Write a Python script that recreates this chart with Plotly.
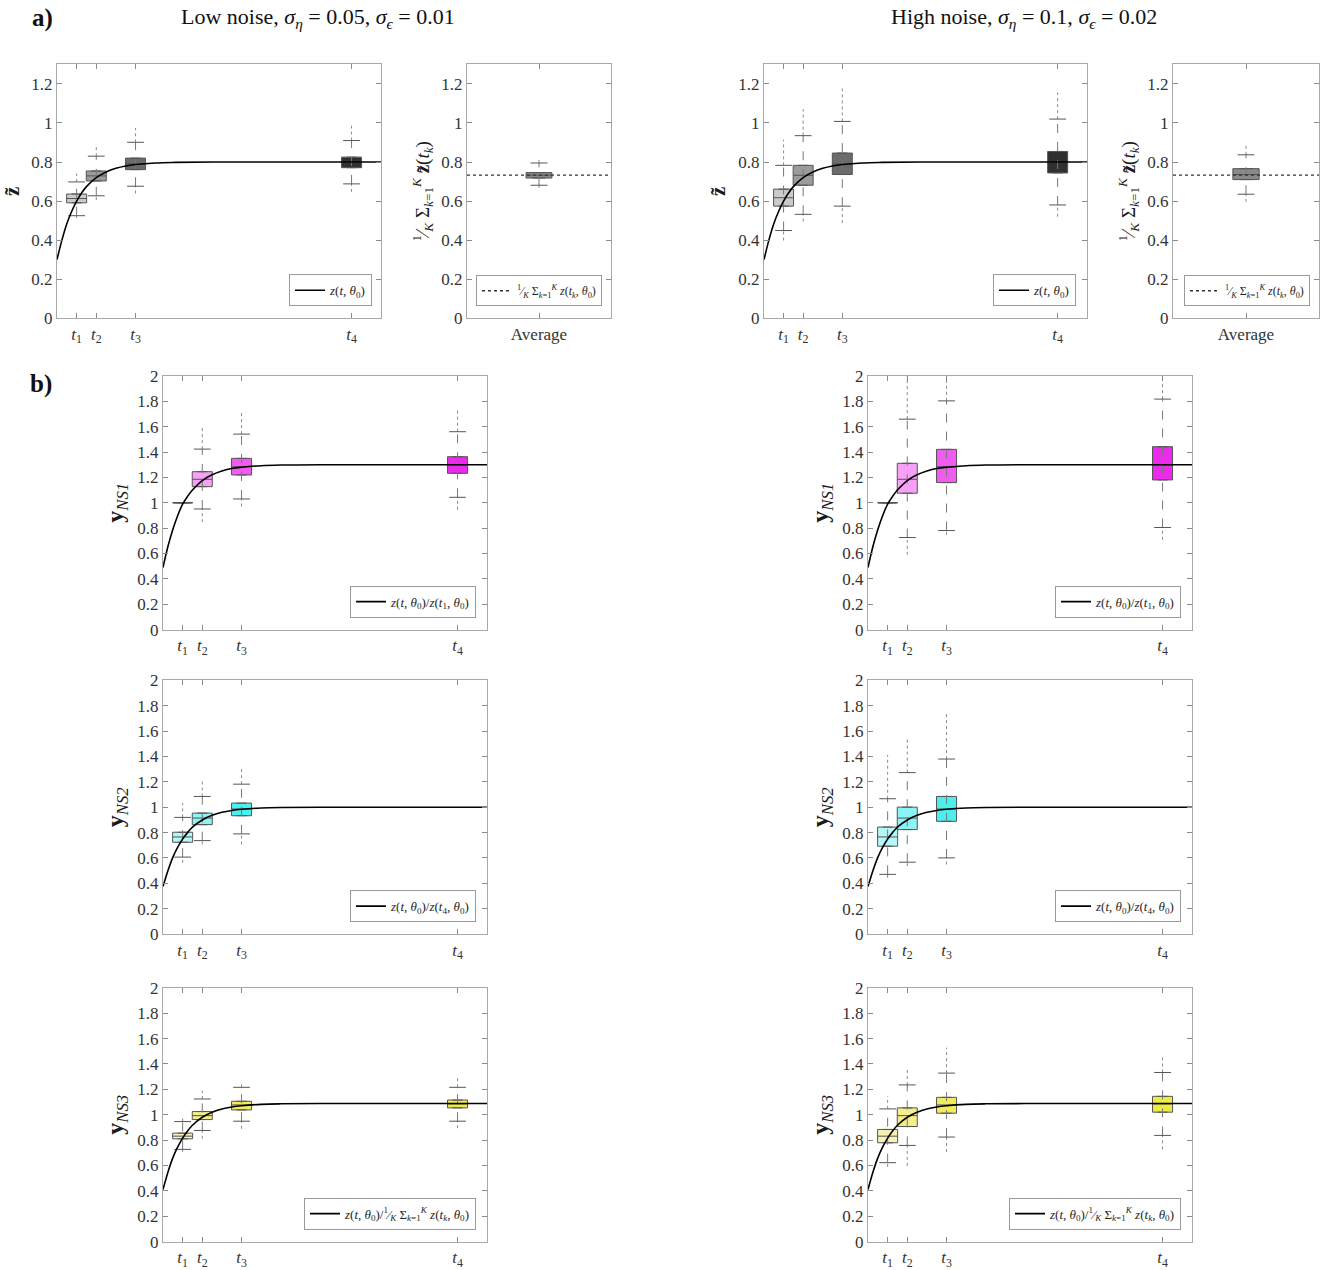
import plotly.graph_objects as go

W, H = 1335, 1270
SERIF = "Liberation Serif, DejaVu Serif, serif"

# ---------------- data ----------------
T = [1, 2, 4, 15]
T_TICKTEXT = ["<i>t</i><sub>1</sub>", "<i>t</i><sub>2</sub>", "<i>t</i><sub>3</sub>", "<i>t</i><sub>4</sub>"]
X_RANGE = [0, 16.5]
AVG_X_RANGE = [0.5, 1.5]
AVG_POS = [1]
AVG_TICKTEXT = ["Average"]

# model curves
CURVE_T = [0, 0.25, 0.5, 0.75, 1, 1.25, 1.5, 2, 2.5, 3, 3.5, 4, 5, 6, 8, 16.5]
Z_CURVE = [0.30, 0.40, 0.484, 0.548, 0.60, 0.641, 0.674, 0.72, 0.749, 0.768, 0.780, 0.787, 0.795, 0.798, 0.80, 0.80]
NS1_CURVE = [0.49, 0.655, 0.79, 0.90, 0.99, 1.05, 1.10, 1.175, 1.22, 1.25, 1.27, 1.28, 1.292, 1.297, 1.30, 1.30]
NS2_CURVE = [0.375, 0.50, 0.605, 0.685, 0.75, 0.80, 0.843, 0.90, 0.936, 0.96, 0.975, 0.984, 0.994, 0.998, 1.0, 1.0]
NS3_CURVE = [0.41, 0.547, 0.66, 0.746, 0.816, 0.872, 0.917, 0.98, 1.019, 1.045, 1.061, 1.071, 1.082, 1.086, 1.088, 1.088]
AVG_REF = 0.733

# box statistics: q1, median, q3, whisker low/high, outlier extent low/high
LOW_Z = dict(q1=[0.591, 0.703, 0.761, 0.771], med=[0.613, 0.729, 0.791, 0.798], q3=[0.636, 0.754, 0.820, 0.825],
             wlo=[0.525, 0.627, 0.676, 0.688], whi=[0.698, 0.830, 0.901, 0.910],
             olo=[0.513, 0.605, 0.639, 0.647], ohi=[0.741, 0.893, 0.975, 0.986])
HIGH_Z = dict(q1=[0.574, 0.681, 0.736, 0.744], med=[0.617, 0.732, 0.790, 0.798], q3=[0.661, 0.783, 0.846, 0.854],
              wlo=[0.449, 0.532, 0.574, 0.580], whi=[0.783, 0.935, 1.008, 1.020],
              olo=[0.398, 0.495, 0.487, 0.520], ohi=[0.915, 1.071, 1.178, 1.156])
LOW_AVG = dict(q1=[0.718], med=[0.733], q3=[0.746], wlo=[0.681], whi=[0.795], olo=[0.668], ohi=[0.810])
HIGH_AVG = dict(q1=[0.710], med=[0.736], q3=[0.766], wlo=[0.635], whi=[0.837], olo=[0.596], ohi=[0.890])

LOW_NS1 = dict(q1=[1.0, 1.127, 1.219, 1.232], med=[1.0, 1.185, 1.284, 1.297], q3=[1.0, 1.245, 1.350, 1.363],
               wlo=[1.0, 0.951, 1.030, 1.043], whi=[1.0, 1.423, 1.541, 1.560],
               olo=[1.0, 0.847, 0.970, 0.944], ohi=[1.0, 1.600, 1.717, 1.738])
HIGH_NS1 = dict(q1=[1.0, 1.075, 1.159, 1.180], med=[1.0, 1.185, 1.284, 1.297], q3=[1.0, 1.311, 1.421, 1.442],
                wlo=[1.0, 0.726, 0.781, 0.805], whi=[1.0, 1.659, 1.803, 1.817],
                olo=[1.0, 0.590, 0.747, 0.708], ohi=[1.0, 2.10, 2.10, 2.10])
LOW_NS2 = dict(q1=[0.724, 0.863, 0.933, None], med=[0.766, 0.915, 0.986, None], q3=[0.803, 0.954, 1.033, None],
               wlo=[0.607, 0.737, 0.790, None], whi=[0.920, 1.085, 1.182, None],
               olo=[0.562, 0.706, 0.706, None], ohi=[1.033, 1.216, 1.320, None])
HIGH_NS2 = dict(q1=[0.693, 0.824, 0.889, None], med=[0.766, 0.915, 0.986, None], q3=[0.844, 1.001, 1.085, None],
                wlo=[0.471, 0.567, 0.601, None], whi=[1.067, 1.273, 1.380, None],
                olo=[0.444, 0.536, 0.549, None], ohi=[1.412, 1.542, 1.757, None])
LOW_NS3 = dict(q1=[0.810, 0.962, 1.038, 1.054], med=[0.831, 0.993, 1.077, 1.085], q3=[0.855, 1.025, 1.106, 1.116],
               wlo=[0.727, 0.876, 0.949, 0.949], whi=[0.946, 1.124, 1.216, 1.216],
               olo=[0.706, 0.810, 0.889, 0.894], ohi=[0.980, 1.190, 1.250, 1.294])
HIGH_NS3 = dict(q1=[0.779, 0.907, 1.012, 1.020], med=[0.831, 0.993, 1.077, 1.085], q3=[0.884, 1.054, 1.137, 1.145],
                wlo=[0.622, 0.758, 0.824, 0.837], whi=[1.046, 1.235, 1.328, 1.333],
                olo=[0.588, 0.597, 0.706, 0.727], ohi=[1.145, 1.373, 1.529, 1.459])

GRAYS = ["#cbcbcb", "#9b9b9b", "#6b6b6b", "#303030"]
AVG_COLOR = "#8a8a8a"
MAGENTAS = ["#f7c0f7", "#f7a0f7", "#f05cf0", "#ec2aec"]
CYANS = ["#b4f8f8", "#8cf4f4", "#4ceeee", "#2ee8e8"]
YELLOWS = ["#f7f1b4", "#f3ef8c", "#f0ec5c", "#efeb45"]

LEG_Z = "<i>z</i>(<i>t</i>, <i>θ</i><sub>0</sub>)"
LEG_AVG = "<sup>1</sup>⁄<sub><i>K</i></sub> Σ<sub><i>k</i>=1</sub><sup><i>K</i></sup> <i>z</i>(<i>t</i><sub><i>k</i></sub>, <i>θ</i><sub>0</sub>)"
LEG_NS1 = "<i>z</i>(<i>t</i>, <i>θ</i><sub>0</sub>)/<i>z</i>(<i>t</i><sub>1</sub>, <i>θ</i><sub>0</sub>)"
LEG_NS2 = "<i>z</i>(<i>t</i>, <i>θ</i><sub>0</sub>)/<i>z</i>(<i>t</i><sub>4</sub>, <i>θ</i><sub>0</sub>)"
LEG_NS3 = "<i>z</i>(<i>t</i>, <i>θ</i><sub>0</sub>)/<sup>1</sup>⁄<sub><i>K</i></sub> Σ<sub><i>k</i>=1</sub><sup><i>K</i></sup> <i>z</i>(<i>t</i><sub><i>k</i></sub>, <i>θ</i><sub>0</sub>)"

YLAB_Z = "<b>z̃</b>"
YLAB_AVG = "<sup>1</sup>⁄<sub><i>K</i></sub> Σ<sub><i>k</i>=1</sub><sup><i>K</i></sup> <b>z̃</b>(<i>t</i><sub><i>k</i></sub>)"
YLAB_NS = ["<b>y</b><sub><i>NS1</i></sub>", "<b>y</b><sub><i>NS2</i></sub>", "<b>y</b><sub><i>NS3</i></sub>"]

TITLE_LOW = "Low noise, <i>σ</i><sub><i>η</i></sub> = 0.05, <i>σ</i><sub><i>ϵ</i></sub> = 0.01"
TITLE_HIGH = "High noise, <i>σ</i><sub><i>η</i></sub> = 0.1, <i>σ</i><sub><i>ϵ</i></sub> = 0.02"


# vertical placement helper: target pixel row -> paper fraction
def py(v):
    return 1 - ((v - 8.3) / 0.982) / H


# ---------------- layout geometry (pixels) ----------------
PANELS = [
    dict(px=(57, 381), pyr=(64, 319), kind="main", yr=[0, 1.3], ylab=YLAB_Z, stats=LOW_Z, colors=GRAYS,
         curve=Z_CURVE, leg=LEG_Z, legpos=(372, 307)),
    dict(px=(467, 611), pyr=(64, 319), kind="avg", yr=[0, 1.3], ylab=YLAB_AVG, stats=LOW_AVG, colors=[AVG_COLOR],
         leg=LEG_AVG, legpos=(602, 307)),
    dict(px=(764, 1087), pyr=(64, 319), kind="main", yr=[0, 1.3], ylab=YLAB_Z, stats=HIGH_Z, colors=GRAYS,
         curve=Z_CURVE, leg=LEG_Z, legpos=(1076, 307)),
    dict(px=(1173, 1319), pyr=(64, 319), kind="avg", yr=[0, 1.3], ylab=YLAB_AVG, stats=HIGH_AVG, colors=[AVG_COLOR],
         leg=LEG_AVG, legpos=(1310, 307)),
    dict(px=(163, 487), pyr=(377, 632), kind="main", yr=[0, 2], ylab=YLAB_NS[0], stats=LOW_NS1, colors=MAGENTAS,
         curve=NS1_CURVE, leg=LEG_NS1, legpos=(476, 620)),
    dict(px=(868, 1192), pyr=(377, 632), kind="main", yr=[0, 2], ylab=YLAB_NS[0], stats=HIGH_NS1, colors=MAGENTAS,
         curve=NS1_CURVE, leg=LEG_NS1, legpos=(1181, 620)),
    dict(px=(163, 487), pyr=(683, 938), kind="main", yr=[0, 2], ylab=YLAB_NS[1], stats=LOW_NS2, colors=CYANS,
         curve=NS2_CURVE, leg=LEG_NS2, legpos=(476, 926)),
    dict(px=(868, 1192), pyr=(683, 938), kind="main", yr=[0, 2], ylab=YLAB_NS[1], stats=HIGH_NS2, colors=CYANS,
         curve=NS2_CURVE, leg=LEG_NS2, legpos=(1181, 926)),
    dict(px=(163, 487), pyr=(992, 1247), kind="main", yr=[0, 2], ylab=YLAB_NS[2], stats=LOW_NS3, colors=YELLOWS,
         curve=NS3_CURVE, leg=LEG_NS3, legpos=(476, 1235)),
    dict(px=(868, 1192), pyr=(992, 1247), kind="main", yr=[0, 2], ylab=YLAB_NS[2], stats=HIGH_NS3, colors=YELLOWS,
         curve=NS3_CURVE, leg=LEG_NS3, legpos=(1181, 1235)),
]

fig = go.Figure()
layout = dict(width=W, height=H, margin=dict(l=0, r=0, t=0, b=0), autosize=False,
              paper_bgcolor="white", plot_bgcolor="white", boxmode="overlay", showlegend=True,
              font=dict(family=SERIF, color="#262626"))

AX_COMMON = dict(showline=True, linecolor="#a8a8a8", linewidth=1, mirror="ticks", ticks="inside",
                 ticklen=5, tickcolor="#8a8a8a", showgrid=False, zeroline=False, fixedrange=True,
                 tickfont=dict(family=SERIF, size=17, color="#333333"))

for i, p in enumerate(PANELS):
    n = i + 1
    xa = "x" if n == 1 else f"x{n}"
    ya = "y" if n == 1 else f"y{n}"
    xkey = "xaxis" if n == 1 else f"xaxis{n}"
    ykey = "yaxis" if n == 1 else f"yaxis{n}"
    lkey = "legend" if n == 1 else f"legend{n}"
    xdom = [p["px"][0] / W, p["px"][1] / W]
    ydom = [py(p["pyr"][1]), py(p["pyr"][0])]

    if p["kind"] == "main":
        xs, xr, tt, bw = T, X_RANGE, T_TICKTEXT, 1.02
    else:
        xs, xr, tt, bw = AVG_POS, AVG_X_RANGE, AVG_TICKTEXT, 0.18

    layout[xkey] = dict(AX_COMMON, domain=xdom, anchor=ya, range=xr, tickvals=xs, ticktext=tt)
    if p["kind"] == "main":
        tfont = dict(family=SERIF, size=24 if p["yr"][1] == 2 else 21, color="#1a1a1a")
    else:
        tfont = dict(family=SERIF, size=19, color="#1a1a1a")
    layout[ykey] = dict(AX_COMMON, domain=ydom, anchor=xa, range=p["yr"], dtick=0.2,
                        title=dict(text=p["ylab"], font=tfont, standoff=6))
    lr, lb = p["legpos"]
    layout[lkey] = dict(x=lr / W, y=py(lb), xanchor="right", yanchor="bottom", bgcolor="white",
                        bordercolor="#9a9a9a", borderwidth=1, itemwidth=30,
                        font=dict(family=SERIF, size=13 if p["kind"] == "main" else 12, color="#262626"))

    s = p["stats"]
    for k, x in enumerate(xs):
        if s["q1"][k] is None:
            continue
        # dotted outlier extent and dashed whisker
        fig.add_trace(go.Scatter(x=[x, x, None, x, x], y=[s["olo"][k], s["wlo"][k], None, s["whi"][k], s["ohi"][k]],
                                 mode="lines", line=dict(color="#8a8a8a", width=1, dash="dot"),
                                 xaxis=xa, yaxis=ya, showlegend=False, hoverinfo="skip"))
        fig.add_trace(go.Scatter(x=[x, x], y=[s["wlo"][k], s["whi"][k]],
                                 mode="lines", line=dict(color="#777777", width=1, dash="dash"),
                                 xaxis=xa, yaxis=ya, showlegend=False, hoverinfo="skip"))
        # whisker caps
        fig.add_trace(go.Scatter(x=[x, x], y=[s["wlo"][k], s["whi"][k]], mode="markers",
                                 marker=dict(symbol="line-ew", size=12, line=dict(color="#555555", width=1)),
                                 xaxis=xa, yaxis=ya, showlegend=False, hoverinfo="skip"))
        # box
        fig.add_trace(go.Box(x=[x], q1=[s["q1"][k]], median=[s["med"][k]], q3=[s["q3"][k]],
                             lowerfence=[s["q1"][k]], upperfence=[s["q3"][k]], width=bw,
                             fillcolor=p["colors"][k], line=dict(color="#555555", width=1),
                             boxpoints=False, xaxis=xa, yaxis=ya, showlegend=False, hoverinfo="skip"))

    if p["kind"] == "main":
        fig.add_trace(go.Scatter(x=CURVE_T, y=p["curve"], mode="lines", name=p["leg"],
                                 line=dict(color="black", width=1.6, shape="spline"),
                                 xaxis=xa, yaxis=ya, legend=lkey, hoverinfo="skip"))
    else:
        fig.add_trace(go.Scatter(x=AVG_X_RANGE, y=[AVG_REF, AVG_REF], mode="lines", name=p["leg"],
                                 line=dict(color="#333333", width=1.4, dash="dot"),
                                 xaxis=xa, yaxis=ya, legend=lkey, hoverinfo="skip"))

annotations = [
    dict(text="<b>a)</b>", x=30 / W, y=py(17), xref="paper", yref="paper", xanchor="left", yanchor="middle",
         showarrow=False, font=dict(family=SERIF, size=25, color="#111")),
    dict(text="<b>b)</b>", x=28 / W, y=py(385), xref="paper", yref="paper", xanchor="left", yanchor="middle",
         showarrow=False, font=dict(family=SERIF, size=25, color="#111")),
    dict(text=TITLE_LOW, x=318 / W, y=py(17), xref="paper", yref="paper", xanchor="center", yanchor="middle",
         showarrow=False, font=dict(family=SERIF, size=22, color="#111")),
    dict(text=TITLE_HIGH, x=1024 / W, y=py(17), xref="paper", yref="paper", xanchor="center", yanchor="middle",
         showarrow=False, font=dict(family=SERIF, size=22, color="#111")),
]
layout["annotations"] = annotations
fig.update_layout(**layout)
fig.write_html("out.html")
